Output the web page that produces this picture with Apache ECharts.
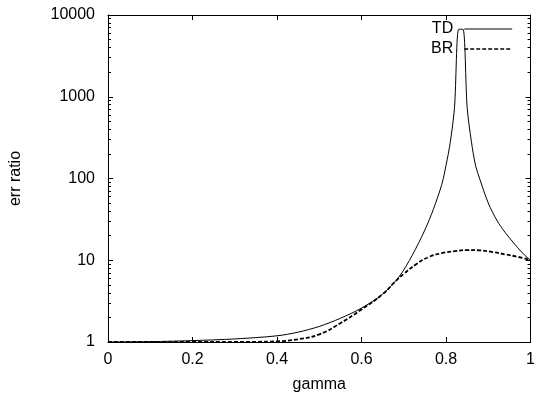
<!DOCTYPE html>
<html>
<head>
<meta charset="utf-8">
<script src="https://cdn.jsdelivr.net/npm/echarts@6/dist/echarts.min.js"></script>
<style>
  html, body { margin: 0; padding: 0; background: #fff; }
  #chart { width: 538px; height: 398px; }
</style>
</head>
<body>
<div id="chart"></div>
<script>
// values
const tdGamma = [0, 0.1, 0.2, 0.3, 0.4, 0.45, 0.5, 0.55, 0.6, 0.65, 0.69, 0.72, 0.75, 0.77, 0.79, 0.8, 0.81, 0.82, 0.83, 0.84, 0.85, 0.86, 0.87, 0.88, 0.9, 0.92, 0.94, 0.96, 0.98, 1.0];
const tdValues = [1.0, 1.01, 1.04, 1.09, 1.19, 1.32, 1.55, 1.95, 2.6, 3.85, 6.4, 11.5, 23.5, 42, 85, 145, 277, 735, 6700, 6700, 735, 283, 143, 98, 50, 31, 21.8, 16.3, 12.4, 10];

const brGamma = [0, 0.1, 0.2, 0.3, 0.35, 0.4, 0.45, 0.5, 0.55, 0.6, 0.65, 0.68, 0.7, 0.73, 0.76, 0.79, 0.82, 0.85, 0.88, 0.91, 0.94, 0.97, 1.0];
const brValues = [1.0, 1.0, 1.0, 1.0, 1.005, 1.02, 1.08, 1.24, 1.7, 2.5, 3.85, 5.5, 6.8, 9.0, 11.0, 12.2, 12.9, 13.3, 13.2, 12.6, 11.8, 11.0, 10.1];

const decades = [1, 10, 100, 1000];
const minorSteps = [2, 3, 4, 5, 6, 7, 8, 9];
const majorTicks = [1, 10, 100, 1000, 10000];
const minorTicks = decades.flatMap((d) => minorSteps.map((m) => m * d));

const FONT = "Liberation Sans";

const zip = (xs, ys) => xs.map((x, i) => [x, ys[i]]);

const chart = echarts.init(document.getElementById("chart"), null, { renderer: "canvas" });

const logAxis = (position, ticks, len, showLabel, showLine) => ({
  type: "log",
  logBase: 10,
  min: 1,
  max: 10000,
  position: position,
  axisLine: { show: showLine, lineStyle: { color: "#000", width: 1 } },
  axisTick: { show: true, inside: true, length: len, customValues: ticks, lineStyle: { color: "#000" } },
  axisLabel: {
    show: showLabel,
    customValues: ticks,
    color: "#000",
    fontFamily: FONT,
    fontSize: 16,
    margin: 13,
    formatter: (v) => String(v),
  },
  splitLine: { show: false },
});

const yMain = logAxis("left", majorTicks, 5, true, true);
yMain.name = "err ratio";
yMain.nameLocation = "middle";
yMain.nameGap = 84;
yMain.nameRotate = 90;
yMain.nameTextStyle = { color: "#000", fontFamily: FONT, fontSize: 16 };

chart.setOption({
  animation: false,
  backgroundColor: "#fff",
  grid: { left: 108, right: 5, top: 15, bottom: 54 },
  legend: {
    orient: "vertical",
    right: 20,
    top: 16,
    align: "right",
    itemWidth: 48,
    itemHeight: 14,
    itemGap: 4,
    itemStyle: { opacity: 0 },
    textStyle: { color: "#000", fontFamily: FONT, fontSize: 16, padding: [0, 6, 0, 0] },
    data: [
      { name: "TD", lineStyle: { width: 1 } },
      { name: "BR", lineStyle: { width: 1.6 } },
    ],
  },
  xAxis: [
    {
      type: "value",
      min: 0,
      max: 1,
      interval: 0.2,
      position: "bottom",
      name: "gamma",
      nameLocation: "middle",
      nameGap: 35,
      nameTextStyle: { color: "#000", fontFamily: FONT, fontSize: 16 },
      axisLine: { lineStyle: { color: "#000", width: 1 } },
      axisTick: { inside: true, length: 5, lineStyle: { color: "#000" } },
      axisLabel: { color: "#000", fontFamily: FONT, fontSize: 16, margin: 10 },
      splitLine: { show: false },
    },
    {
      type: "value",
      min: 0,
      max: 1,
      interval: 0.2,
      position: "top",
      axisLine: { lineStyle: { color: "#000", width: 1 } },
      axisTick: { inside: true, length: 5, lineStyle: { color: "#000" } },
      axisLabel: { show: false },
      splitLine: { show: false },
    },
  ],
  yAxis: [
    yMain,
    logAxis("left", minorTicks, 3, false, false),
    logAxis("right", majorTicks, 5, false, true),
    logAxis("right", minorTicks, 3, false, false),
  ],
  series: [
    {
      name: "TD",
      type: "line",
      data: zip(tdGamma, tdValues),
      showSymbol: false,
      symbol: "none",
      smooth: 0.3,
      lineStyle: { color: "#000", width: 1 },
      itemStyle: { color: "#000" },
    },
    {
      name: "BR",
      type: "line",
      data: zip(brGamma, brValues),
      showSymbol: false,
      symbol: "none",
      smooth: 0.5,
      lineStyle: { color: "#000", width: 1.8, type: [4, 2] },
      itemStyle: { color: "#000" },
    },
  ],
});
</script>
</body>
</html>
